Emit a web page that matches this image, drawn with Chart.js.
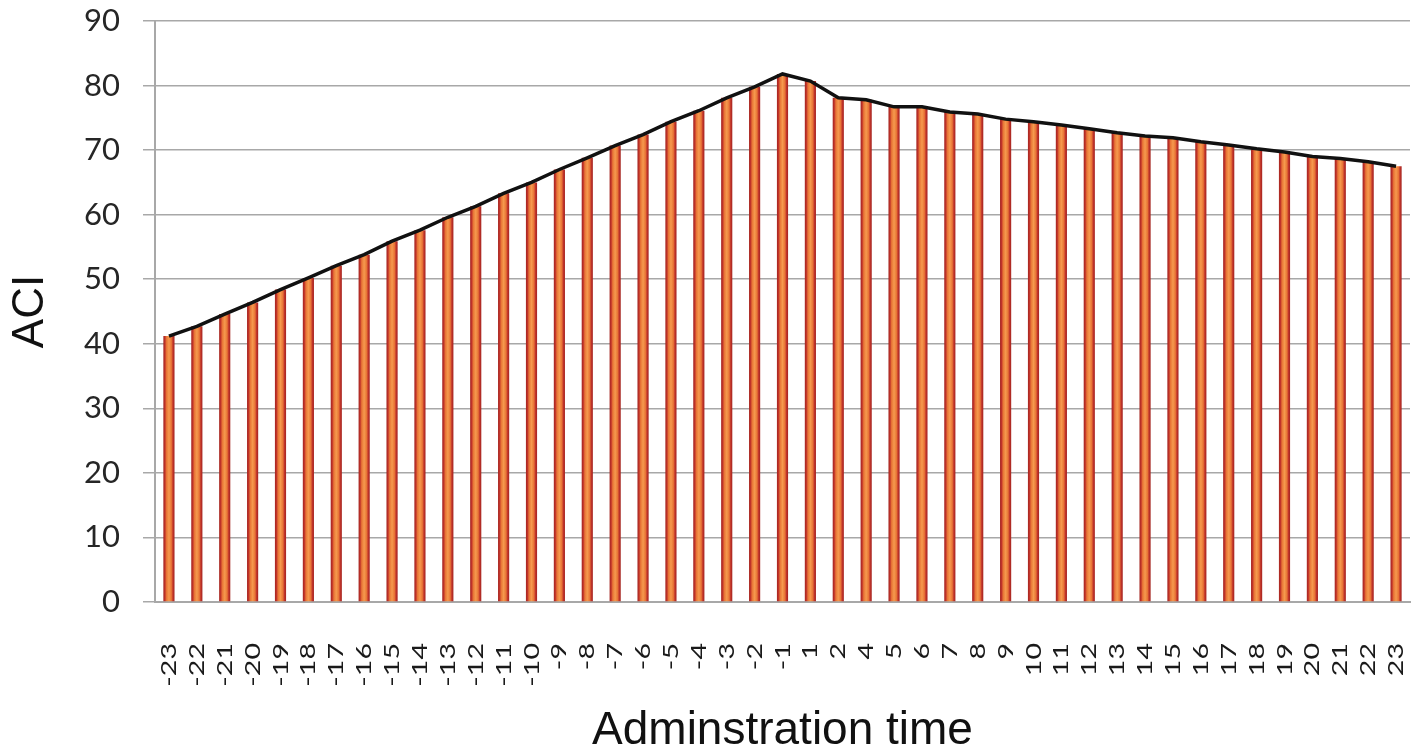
<!DOCTYPE html>
<html>
<head>
<meta charset="utf-8">
<script src="https://cdn.jsdelivr.net/npm/chart.js@4/dist/chart.umd.min.js"></script>
<style>
  html, body { margin: 0; padding: 0; background: #fff; }
  #aciChart { display: block; }
</style>
</head>
<body>
<canvas id="aciChart" width="1420" height="755"></canvas>
<script>
// administration time categories (note: 3 is missing in the source)
const timeLabels = [
  "-23", "-22", "-21", "-20", "-19", "-18", "-17", "-16", "-15", "-14", "-13", "-12",
  "-11", "-10", "-9", "-8", "-7", "-6", "-5", "-4", "-3", "-2", "-1",
  "1", "2", "4", "5", "6", "7", "8", "9", "10", "11", "12", "13", "14", "15", "16",
  "17", "18", "19", "20", "21", "22", "23"
];

const aciValues = [
  41.2, 42.7, 44.6, 46.4, 48.4, 50.2, 52.1, 53.8, 55.9, 57.6, 59.6, 61.3,
  63.3, 65.0, 67.0, 68.8, 70.7, 72.4, 74.4, 76.1, 78.1, 79.8, 81.8,
  80.7, 78.1, 77.8, 76.7, 76.7, 75.9, 75.6, 74.8, 74.4, 73.9, 73.3, 72.7, 72.2, 71.9, 71.3,
  70.8, 70.2, 69.7, 69.0, 68.7, 68.2, 67.5
];

const yTicks = [0, 10, 20, 30, 40, 50, 60, 70, 80, 90];

const BAR_PCT = 0.4;

// horizontal red/orange shading of each bar
function barFill(c) {
  const chart = c.chart;
  const xs = chart.scales.x;
  if (!chart.chartArea || !xs || c.dataIndex === undefined) return "#e0602f";
  const cx = xs.getPixelForValue(c.dataIndex);
  const half = (xs.getPixelForValue(1) - xs.getPixelForValue(0)) * BAR_PCT / 2;
  const g = chart.ctx.createLinearGradient(cx - half, 0, cx + half, 0);
  g.addColorStop(0, "#a3241f");
  g.addColorStop(0.14, "#c0332a");
  g.addColorStop(0.28, "#e87436");
  g.addColorStop(0.5, "#f59a4e");
  g.addColorStop(0.72, "#e87436");
  g.addColorStop(0.86, "#c0332a");
  g.addColorStop(1, "#a3241f");
  return g;
}

// rotated, slightly stretched category labels under the axis
const xLabelPlugin = {
  id: "xLabels",
  afterDraw(chart) {
    const ctx = chart.ctx;
    const xs = chart.scales.x;
    const top = chart.chartArea.bottom + 41;
    ctx.save();
    ctx.fillStyle = "#1a1a1a";
    ctx.font = "22px Lato";
    ctx.textAlign = "right";
    ctx.textBaseline = "middle";
    timeLabels.forEach((lab, i) => {
      ctx.save();
      ctx.translate(xs.getPixelForValue(i), top);
      ctx.rotate(-Math.PI / 2);
      ctx.scale(1.3, 1);
      ctx.fillText(lab, 0, 0);
      ctx.restore();
    });
    ctx.restore();
  }
};

const ctx = document.getElementById("aciChart").getContext("2d");

new Chart(ctx, {
  data: {
    labels: timeLabels,
    datasets: [
      {
        type: "line",
        data: aciValues,
        borderColor: "#111",
        borderWidth: 3.5,
        pointRadius: 0,
        tension: 0,
        fill: false,
        order: 0
      },
      {
        type: "bar",
        data: aciValues,
        backgroundColor: barFill,
        borderWidth: 0,
        barPercentage: BAR_PCT,
        categoryPercentage: 1,
        order: 1
      }
    ]
  },
  options: {
    responsive: false,
    animation: false,
    layout: { padding: { top: 21, right: 10, bottom: 0, left: 0 } },
    plugins: {
      legend: { display: false },
      tooltip: { enabled: false }
    },
    scales: {
      x: {
        type: "category",
        grid: { display: false },
        border: { display: true, color: "#a8a8a8", width: 2 },
        ticks: { display: false },
        title: {
          display: true,
          text: "Adminstration time",
          color: "#111",
          font: { family: "Liberation Sans", size: 46, lineHeight: 1 },
          padding: { top: 0, bottom: 1 }
        },
        afterFit: (s) => { s.height = 153; s.paddingLeft = 0; s.paddingRight = 0; }
      },
      y: {
        min: 0,
        max: 90,
        afterBuildTicks: (s) => { s.ticks = yTicks.map(v => ({ value: v })); },
        grid: { color: "#a8a8a8", lineWidth: 1.5, tickLength: 12, drawTicks: true },
        border: { display: true, color: "#a8a8a8", width: 2 },
        ticks: {
          color: "#262626",
          font: { family: "Lato", size: 31 },
          padding: 23
        },
        title: {
          display: true,
          text: "ACI",
          color: "#111",
          font: { family: "Liberation Sans", size: 44, lineHeight: 1 },
          padding: { top: 9, bottom: 0 }
        },
        afterFit: (s) => { s.width = 155; s.paddingTop = 0; s.paddingBottom = 0; }
      }
    }
  },
  plugins: [xLabelPlugin]
});
</script>
</body>
</html>
